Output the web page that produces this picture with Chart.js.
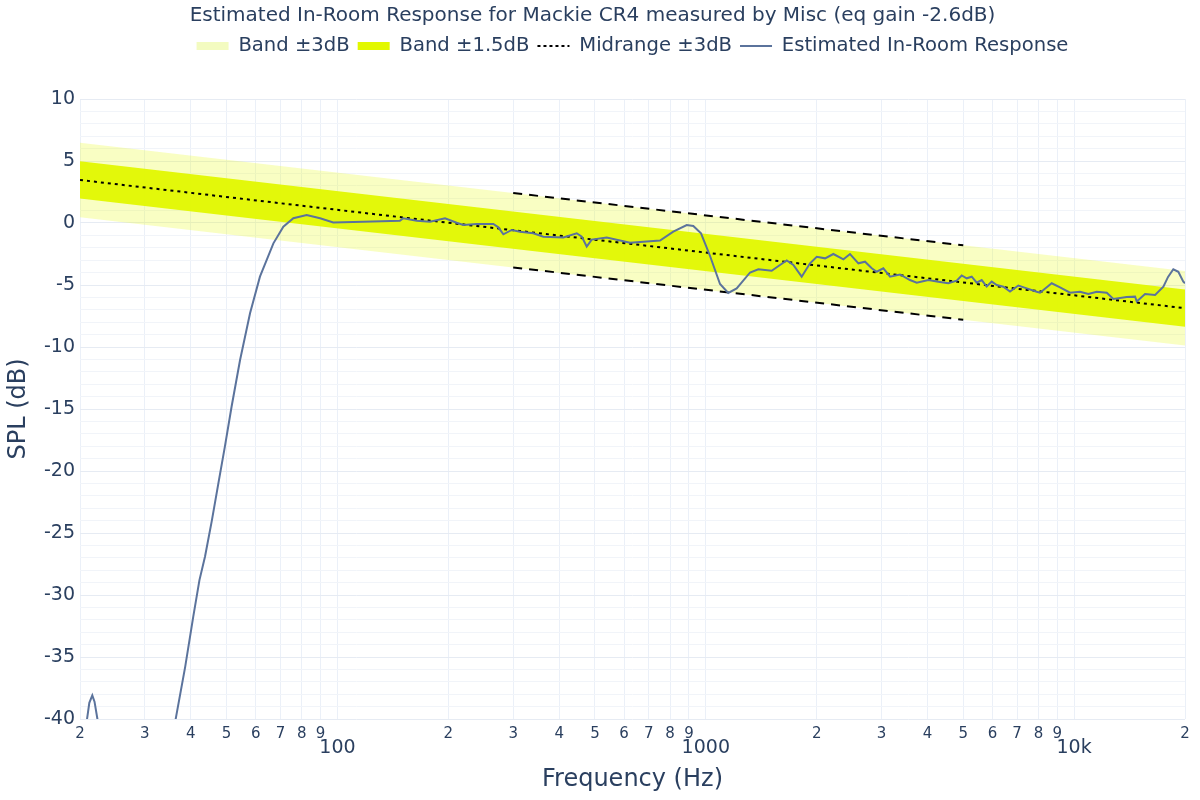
<!DOCTYPE html>
<html>
<head>
<meta charset="utf-8">
<title>Estimated In-Room Response</title>
<script src="https://cdn.jsdelivr.net/npm/chart.js@4.4.0/dist/chart.umd.min.js"></script>
<style>
  html, body { margin: 0; padding: 0; background: #fff; }
  canvas { display: block; }
</style>
</head>
<body>
<canvas id="spin" width="1200" height="800"></canvas>
<script>
// --- values ---
const xTickValues = [20, 30, 40, 50, 60, 70, 80, 90, 100, 200, 300, 400, 500, 600, 700, 800, 900,
  1000, 2000, 3000, 4000, 5000, 6000, 7000, 8000, 9000, 10000, 20000];
const xTickLabels = ['2', '3', '4', '5', '6', '7', '8', '9', '100', '2', '3', '4', '5', '6', '7', '8', '9',
  '1000', '2', '3', '4', '5', '6', '7', '8', '9', '10k', '2'];
const xMajorTicks = [100, 1000, 10000];

// regression bands (straight lines on the log axis)
const bandFreq = [20, 20000];
const band3Upper = [6.47, -3.87];
const band3Lower = [0.47, -9.87];
const band15Upper = [4.97, -5.37];
const band15Lower = [1.97, -8.37];
const midLine = [3.47, -6.87];

const midrangeFreq = [300, 5000];
const midrangeUpper = [2.42, -1.80];
const midrangeLower = [-3.58, -7.80];

// estimated in-room response
const respFreq = [20, 20.6, 20.9, 21.2, 21.6, 21.9, 22.3, 22.8, 24, 28,
  32, 34.7, 36.4, 38.6, 40.6, 42.2, 43.7, 45.6, 47.5, 49.5,
  51.6, 54.4, 57.9, 61.6, 67.0, 71.3, 75.9, 82.5, 89.7, 97.4,
  117.5, 147.8, 150.9, 164.2, 178.4, 195.9, 210.7, 219.6, 238.8, 265,
  273.4, 282.1, 297.3, 313.1, 340.2, 362.2, 410.4, 446.3, 460.5, 475,
  490.1, 538.3, 622.8, 751.3, 816.2, 887.6, 925, 970.6, 1027, 1093,
  1151, 1213, 1319, 1389, 1510, 1590, 1659, 1729, 1821, 1919,
  2001, 2108, 2220, 2364, 2464, 2596, 2706, 2822, 2911, 3034,
  3164, 3368, 3584, 3738, 4020, 4279, 4555, 4800, 4952, 5110,
  5272, 5440, 5612, 5790, 5974, 6165, 6426, 6698, 7056, 7436,
  7916, 8082, 8693, 9156, 9748, 10376, 10930, 11520, 12264, 12780,
  13898, 14638, 14794, 15578, 16590, 17472, 17990, 18592, 19184, 19790,
  20000];
const respSpl = [-48, -42.5, -40.0, -38.7, -38.1, -38.6, -40.0, -43.3, -50, -56,
  -50, -43.6, -39.95, -35.8, -31.75, -28.8, -26.9, -24.0, -21.0, -18.0,
  -14.8, -11.05, -7.28, -4.33, -1.64, -0.30, 0.38, 0.65, 0.38, 0.05,
  0.1, 0.19, 0.38, 0.19, 0.10, 0.38, 0.02, -0.16, -0.08, -0.08,
  -0.35, -0.91, -0.56, -0.70, -0.83, -1.10, -1.17, -0.83, -1.10, -1.90,
  -1.34, -1.17, -1.59, -1.41, -0.70, -0.16, -0.24, -0.83, -2.66, -4.92,
  -5.64, -5.27, -3.99, -3.73, -3.85, -3.39, -3.02, -3.39, -4.33, -3.25,
  -2.72, -2.85, -2.50, -2.93, -2.50, -3.25, -3.12, -3.65, -3.93, -3.65,
  -4.33, -4.15, -4.60, -4.81, -4.60, -4.73, -4.86, -4.65, -4.23, -4.46,
  -4.33, -4.81, -4.60, -5.12, -4.73, -5.00, -5.14, -5.52, -5.04, -5.27,
  -5.54, -5.62, -4.86, -5.20, -5.62, -5.54, -5.73, -5.54, -5.62, -6.13,
  -5.97, -5.94, -6.33, -5.73, -5.81, -5.14, -4.35, -3.73, -3.93, -4.73,
  -4.85];

const textColor = '#2a3f5f';
const fontFamily = '"DejaVu Sans", Verdana, sans-serif';

function pts(xs, ys) {
  return xs.map((x, i) => ({ x: x, y: ys[i] }));
}

const flat = { pointRadius: 0, pointHoverRadius: 0, tension: 0 };

// index 0 is drawn last (on top)
const datasets = [
  Object.assign({ label: 'Estimated In-Room Response', data: pts(respFreq, respSpl),
    borderColor: '#5b739c', borderWidth: 2, fill: false }, flat),
  Object.assign({ label: 'midrange upper', data: pts(midrangeFreq, midrangeUpper),
    borderColor: '#000', borderWidth: 2, borderDash: [9, 7], fill: false }, flat),
  Object.assign({ label: 'midrange lower', data: pts(midrangeFreq, midrangeLower),
    borderColor: '#000', borderWidth: 2, borderDash: [9, 7], fill: false }, flat),
  Object.assign({ label: 'Midrange ±3dB', data: pts(bandFreq, midLine),
    borderColor: '#000', borderWidth: 2, borderDash: [3, 4], fill: false }, flat),
  Object.assign({ label: 'Band ±1.5dB', data: pts(bandFreq, band15Upper),
    borderWidth: 0, borderColor: 'rgba(0,0,0,0)', backgroundColor: 'rgba(226,248,0,0.95)', fill: 5 }, flat),
  Object.assign({ label: 'band15 lower', data: pts(bandFreq, band15Lower),
    borderWidth: 0, borderColor: 'rgba(0,0,0,0)', fill: false }, flat),
  Object.assign({ label: 'Band ±3dB', data: pts(bandFreq, band3Upper),
    borderWidth: 0, borderColor: 'rgba(0,0,0,0)', backgroundColor: 'rgba(232,250,40,0.28)', fill: 7 }, flat),
  Object.assign({ label: 'band3 lower', data: pts(bandFreq, band3Lower),
    borderWidth: 0, borderColor: 'rgba(0,0,0,0)', fill: false }, flat)
];

const legendItems = [
  { text: 'Band ±3dB', strokeStyle: '#f3fbc0', lineWidth: 8, lineDash: [] },
  { text: 'Band ±1.5dB', strokeStyle: '#e2f800', lineWidth: 8, lineDash: [] },
  { text: 'Midrange ±3dB', strokeStyle: '#000', lineWidth: 2, lineDash: [3, 3] },
  { text: 'Estimated In-Room Response', strokeStyle: '#5b739c', lineWidth: 2, lineDash: [] }
];

new Chart(document.getElementById('spin'), {
  type: 'line',
  data: { datasets: datasets },
  options: {
    responsive: false,
    animation: false,
    devicePixelRatio: 1,
    layout: { padding: { left: 0, right: 15, top: 0, bottom: 0 } },
    plugins: {
      title: {
        display: true,
        text: 'Estimated In-Room Response for Mackie CR4 measured by Misc (eq gain -2.6dB)',
        color: textColor,
        font: { family: fontFamily, size: 20, weight: 'normal', lineHeight: 1.2 },
        padding: { top: 4, bottom: 0.2 }
      },
      legend: {
        display: true,
        position: 'top',
        fullSize: false,
        onClick: null,
        labels: {
          color: textColor,
          font: { family: fontFamily, size: 19.6 },
          usePointStyle: true,
          pointStyleWidth: 32,
          padding: 8,
          generateLabels: () => legendItems.map(it => ({
            text: it.text,
            fillStyle: 'rgba(0,0,0,0)',
            strokeStyle: it.strokeStyle,
            lineWidth: it.lineWidth,
            lineDash: it.lineDash,
            lineCap: 'butt',
            pointStyle: 'line',
            fontColor: textColor,
            hidden: false
          }))
        }
      },
      subtitle: {
        // empty spacer between legend and plot
        display: true,
        text: '',
        weight: 500,
        font: { size: 1, lineHeight: 1 },
        padding: { top: 32.2, bottom: 0 }
      },
      tooltip: { enabled: false }
    },
    scales: {
      x: {
        type: 'logarithmic',
        min: 20,
        max: 20000,
        afterBuildTicks: (axis) => { axis.ticks = xTickValues.map(v => ({ value: v })); },
        afterFit: (axis) => { axis.height = 81; },
        grid: { color: '#ebf0f8', drawTicks: false },
        border: { display: false },
        ticks: {
          autoSkip: false,
          maxRotation: 0,
          padding: 6,
          color: textColor,
          font: (ctx) => {
            const v = xTickValues[ctx.index];
            return xMajorTicks.includes(v)
              ? { family: fontFamily, size: 19, lineHeight: 0.8 }
              : { family: fontFamily, size: 15, lineHeight: 1.2 };
          },
          callback: (value, index) => {
            const lbl = xTickLabels[index];
            return xMajorTicks.includes(xTickValues[index]) ? ['', lbl] : lbl;
          }
        },
        title: {
          display: true,
          text: 'Frequency (Hz)',
          color: textColor,
          font: { family: fontFamily, size: 24 },
          padding: { top: 0, bottom: 6 }
        }
      },
      y: {
        type: 'linear',
        min: -40,
        max: 10,
        afterFit: (axis) => { axis.width = 80; },
        grid: {
          drawTicks: false,
          color: (ctx) => (ctx.tick && ctx.tick.value % 5 === 0) ? '#e6ebf3' : '#f1f4f9'
        },
        border: { display: false },
        ticks: {
          stepSize: 1,
          autoSkip: false,
          padding: 5,
          color: textColor,
          font: { family: fontFamily, size: 19 },
          callback: (v) => (v % 5 === 0 ? String(v) : '')
        },
        title: {
          display: true,
          text: 'SPL (dB)',
          color: textColor,
          font: { family: fontFamily, size: 24 },
          padding: { top: 4, bottom: 0 }
        }
      }
    }
  }
});
</script>
</body>
</html>
